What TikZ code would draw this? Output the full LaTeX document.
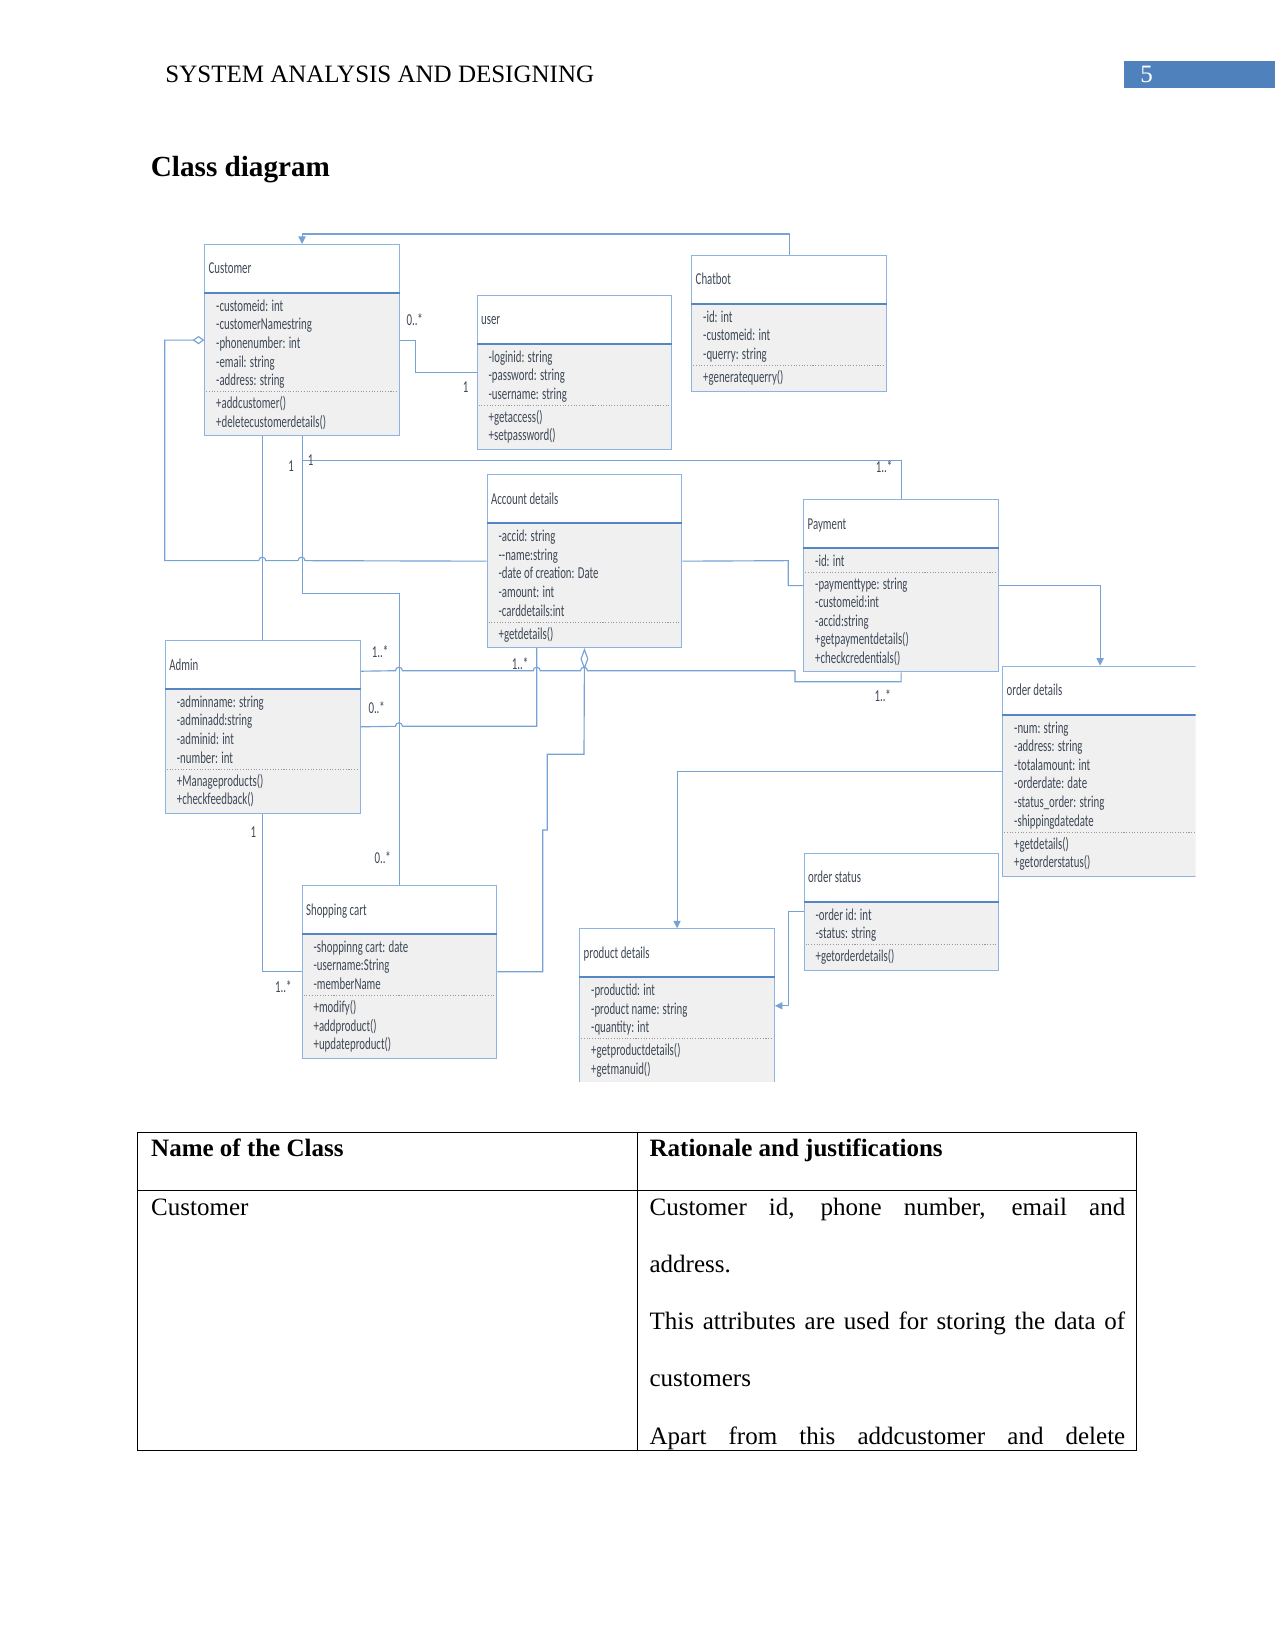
\documentclass[tikz,border=0pt]{standalone}
\usepackage{fontspec}
\setmainfont{Liberation Serif}
\newfontfamily\clsfont[FakeStretch=0.65]{Carlito}
\usetikzlibrary{calc,arrows.meta}
\definecolor{clsborder}{RGB}{141,179,226}
\definecolor{clsrule}{RGB}{84,134,196}
\definecolor{clsgray}{RGB}{240,240,240}
\definecolor{clsink}{RGB}{62,72,86}
\definecolor{connblue}{RGB}{118,162,214}
\definecolor{pageblue}{RGB}{79,129,189}
\def\hop{arc[start angle=180,end angle=360,radius=3.5]}
\def\umlclass#1(#2,#3)#4#5#6#7#8{%
	\pgfmathsetmacro\dsep{54.7+#5*18.6}%
	\pgfmathsetmacro\clsh{\dsep+6.5+#7*18.5}%
	\fill[clsgray] (#2,#3+49) rectangle (#2+194.5,#3+\clsh);
	\node[clsbox, minimum height=\clsh*0.48pt, anchor=north west] (#1) at (#2,#3) {};
	\draw[clsrule] ($(#1.north west)+(0,49)$) -- ($(#1.north east)+(0,49)$);
	\draw[clsdots] ($(#1.north west)+(2,\dsep)$) -- ($(#1.north east)+(-2,\dsep)$);
	\node[clstext] (#1-t) at ($(#1.north west)+(4,30)$) {#4};
	\foreach \s [count=\i] in {#6} {\node[clstext] (#1-a\i) at ($(#1.north west)+(11.5,48.7+\i*18.6)$) {\s};}
	\foreach \s [count=\i] in {#8} {\node[clstext] (#1-m\i) at ($(#1.north west)+(11.5,\dsep-1.5+\i*18.5)$) {\s};}
}

\begin{document}
\begin{tikzpicture}[x=0.48pt, y=-0.48pt,
	clsbox/.style={draw=clsborder, line width=0.5pt, minimum width=93.36pt, inner sep=0},
	clsrule/.style={draw=clsrule, line width=0.8pt},
	clsdots/.style={draw=gray!80, line width=0.4pt, dash pattern=on 0.5pt off 0.8pt},
	clstext/.style={anchor=base west, inner sep=0, text=clsink, font=\clsfont\fontsize{8}{9}\selectfont},
	mult/.style={inner sep=0, text=clsink, font=\clsfont\fontsize{8}{9}\selectfont},
	conn/.style={draw=connblue, line width=0.55pt},
	tip/.style={-{Triangle[length=3.6pt,width=3.4pt]}},
	body/.style={anchor=base west, inner sep=0, font=\fontsize{12}{14}\selectfont},
	tbl/.style={draw=black, line width=0.6pt}]
		%%%%% START %%%%%
		
		\fill[white] (0,0) rectangle (1275,1651);
		\useasboundingbox (0,0) rectangle (1275,1651);
		
		\node[body] (head) at (165,83) {SYSTEM ANALYSIS AND DESIGNING};
		\fill[pageblue] (1124,61) rectangle (1275,88.5);
		\node[body, text=white] (pnum) at (1140,83) {5};
		\node[body, font=\fontsize{14}{16}\selectfont\bfseries] (title) at (150.5,177) {Class diagram};
		
		\begin{scope}
		\clip (150,225) rectangle (1195.5,1081);
		
		\umlclass{cust}(204.3,244){Customer}{5}{-customeid: int,-customerNamestring,-phonenumber: int,-email: string,-address: string}{2}{+addcustomer(),+deletecustomerdetails()}
		\umlclass{user}(476.7,294.7){user}{3}{-loginid: string,-password: string,-username: string}{2}{+getaccess(),+setpassword()}
		\umlclass{chat}(691.3,255){Chatbot}{3}{-id: int,-customeid: int,-querry: string}{1}{+generatequerry()}
		\umlclass{acc}(486.7,474.3){Account details}{5}{-accid: string,--name:string,-date of creation: Date,-amount: int,-carddetails:int}{1}{+getdetails()}
		\umlclass{pay}(803.3,499){Payment}{1}{-id: int}{5}{-paymenttype: string,-customeid:int,-accid:string,+getpaymentdetails(),+checkcredentials()}
		\umlclass{admin}(165,640){Admin}{4}{-adminname: string,-adminadd:string,-adminid: int,-number: int}{2}{+Manageproducts(),+checkfeedback()}
		\umlclass{ord}(1002.3,665.7){order details}{6}{-num: string,-address: string,-totalamount: int,-orderdate: date,-status\_order: string,-shippingdatedate}{2}{+getdetails(),+getorderstatus()}
		\umlclass{shop}(301.7,885){Shopping cart}{3}{-shoppinng cart: date,-username:String,-memberName}{3}{+modify(),+addproduct(),+updateproduct()}
		\umlclass{prod}(579.3,928.3){product details}{3}{-productid: int,-product name: string,-quantity: int}{2}{+getproductdetails(),+getmanuid()}
		\umlclass{ost}(803.7,852.7){order status}{2}{-order id: int,-status: string}{1}{+getorderdetails()}
		
		\draw[conn] (cust.east) -- ++(15.7,0) |- (user.west);
		\draw[conn, tip] (chat.north) -- ++(0,-21) -| (cust.north);
		\draw[conn, {Diamond[open,length=5.6pt,width=4pt]}-] (cust.west) -- ++(-39.5,0) |- (258.75,560.65) \hop -- (298,560.65) \hop -- (acc.west);
		\draw[conn] (acc.east) -- (788.3,560.65) |- (pay.west);
		\draw[conn] (cust.south) -- ++(0,24) -| (pay.north);
		\draw[conn] (cust.south) -- ++(0,157.5) -| (shop.north);
		\draw[conn] (admin.north) -- (admin.north |- cust.south);
		\draw[conn] (admin.south) |- (shop.west);
		\draw[conn] ($(admin.east)+(0,-55.6)$) -- (395.45,670.7) \hop -- (533.2,670.7) \hop -- (580.5,670.7) \hop -- (795,670.7) -- (795,681.7) -| (pay.south);
		\draw[conn] (admin.east) -- (395.45,726.3) \hop -| ($(acc.south west)+(50,0)$);
		\draw[conn, {Diamond[open,length=10.4pt,width=3.8pt]}-] (acc.south) -- (584,754.3) -- (547.3,754.3) -- (547.3,830) -- (542.7,830) |- (shop.east);
		\draw[conn, tip] (pay.east) -| (ord.north);
		\draw[conn, tip] (ord.west) -| (prod.north);
		\draw[conn, tip] (ost.west) -- ++(-15,0) |- (prod.east);
		
		\node[mult] (m1) at (414.7,320) {0..*};
		\node[mult] (m2) at (465.7,386.7) {1};
		\node[mult] (m3) at (291,466) {1};
		\node[mult] (m4) at (310.6,460) {1};
		\node[mult] (m5) at (884,466.7) {1..*};
		\node[mult] (m6) at (380,651.7) {1..*};
		\node[mult] (m7) at (376.7,707.3) {0..*};
		\node[mult] (m8) at (520,663.3) {1..*};
		\node[mult] (m9) at (882.7,696) {1..*};
		\node[mult] (m10) at (253.3,831.7) {1};
		\node[mult] (m11) at (382.7,857.7) {0..*};
		\node[mult] (m12) at (283.3,986.7) {1..*};
		\end{scope}
		
		\draw[tbl] (137.8,1132.3) rectangle (1136.5,1450.3);
		\draw[tbl] (137.8,1190.3) -- (1136.5,1190.3);
		\draw[tbl] (637.5,1132.3) -- (637.5,1450.3);
		
		\node[body, font=\fontsize{12}{14}\selectfont\bfseries] (colA) at (150.8,1156) {Name of the Class};
		\node[body, font=\fontsize{12}{14}\selectfont\bfseries] (colB) at (649.2,1156) {Rationale and justifications};
		\node[body] (rowA) at (150.8,1215) {Customer};
		\node[body] (r1) at (649.2,1215) {\makebox[228.3pt][s]{Customer id, phone number, email and}};
		\node[body] (r2) at (649.2,1272.3) {address.};
		\node[body] (r3) at (649.2,1329.6) {\makebox[228.3pt][s]{This attributes are used for storing the data of}};
		\node[body] (r4) at (649.2,1386.9) {customers};
		\node[body] (r5) at (649.2,1444.2) {\makebox[228.3pt][s]{Apart from this addcustomer and delete}};
		
		%%%%% END %%%%%
\end{tikzpicture}
\end{document}
